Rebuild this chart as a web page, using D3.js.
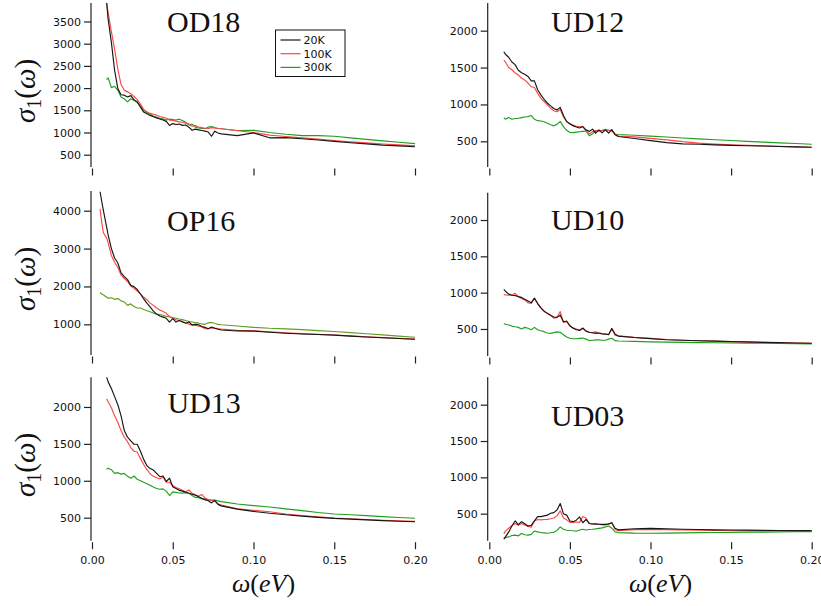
<!DOCTYPE html>
<html>
<head>
<meta charset="utf-8">
<script src="https://cdn.jsdelivr.net/npm/d3@7"></script>
<style>
  body { margin: 0; background: #fff; }
  svg { display: block; }
</style>
</head>
<body>
<svg id="chart" width="821" height="606"></svg>
<script>
// Photon energy grid (eV) shared by every sample
const omega = [0.005, 0.006, 0.007, 0.008, 0.009,
  0.010, 0.012, 0.014, 0.016, 0.018, 0.020, 0.022, 0.024, 0.026, 0.028,
  0.030, 0.032, 0.034, 0.036, 0.038, 0.040, 0.042, 0.044, 0.046, 0.048,
  0.050, 0.052, 0.054, 0.056, 0.058, 0.060, 0.062, 0.064, 0.066, 0.068,
  0.070, 0.072, 0.074, 0.076, 0.078, 0.080,
  0.09, 0.10, 0.11, 0.12, 0.13, 0.14, 0.15, 0.16, 0.17, 0.18, 0.19, 0.20];

const temperatures = ["20K", "100K", "300K"];

// sigma_1(omega) per sample and temperature
const od18_20K = [null, null, null, null, 3950,
  3550, 3030, 2400, 1990, 1850, 1840, 1800, 1830, 1740, 1690,
  1570, 1460, 1420, 1385, 1355, 1330, 1305, 1280, 1250, 1160,
  1200, 1180, 1190, 1160, 1170, 1120, 1050, 1075, 1060, 1045,
  1030, 1010, 915, 1030, 990, 970,
  930, 990, 880, 885, 860, 830, 800, 770, 745, 715, 700, 680];
const od18_100K = [null, null, null, null, 3920,
  3700, 3270, 2880, 2420, 2080, 1950, 1915, 1875, 1810, 1740,
  1640, 1520, 1465, 1430, 1410, 1390, 1360, 1340, 1320, 1280,
  1270, 1255, 1240, 1230, 1210, 1190, 1140, 1160, 1120, 1110,
  1095, 1090, 1110, 1100, 1090, 1085,
  1040, 1000, 940, 910, 880, 850, 820, 790, 765, 740, 720, 700];
const od18_300K = [null, null, null, null, 2190,
  2230, 2010, 2040, 1950, 1800, 1760, 1690, 1760, 1720, 1680,
  1610, 1500, 1450, 1410, 1370, 1345, 1320, 1300, 1280, 1300,
  1290, 1280, 1300, 1270, 1230, 1170, 1190, 1120, 1100, 1090,
  1090, 1120, 1135, 1110, 1090, 1085,
  1045, 1050, 1000, 960, 930, 930, 915, 880, 845, 810, 780, 750];

const ud12_20K = [null, null, null, null, 1715,
  1680, 1640, 1575, 1540, 1464, 1430, 1410, 1380, 1320, 1320,
  1200, 1130, 1070, 1020, 980, 945, 925, 960, 850, 770,
  735, 710, 695, 680, 700, 655, 635, 665, 610, 655,
  615, 655, 610, 660, 590, 565,
  538, 510, 482, 466, 460, 452, 446, 440, 436, 430, 425, 420];
const ud12_100K = [null, null, null, null, 1600,
  1575, 1500, 1470, 1430, 1400, 1355, 1330, 1290, 1240, 1230,
  1150, 1085, 1040, 995, 950, 915, 900, 930, 830, 766,
  743, 720, 705, 698, 700, 640, 600, 630, 650, 640,
  650, 662, 645, 653, 600, 572,
  560, 540, 520, 495, 475, 462, 452, 445, 438, 432, 425, 420];
const ud12_300K = [null, null, null, null, 820,
  800, 822, 800, 810, 812, 822, 830, 835, 850, 800,
  780, 775, 766, 745, 725, 710, 730, 770, 700, 650,
  620, 618, 625, 630, 635, 640, 575, 600, 640, 645,
  645, 648, 650, 640, 600, 592,
  582, 570, 558, 545, 533, 522, 511, 500, 490, 480, 470, 460];

const op16_20K = [4500, 4250, 4020, 3800, 3580,
  3360, 3000, 2750, 2620, 2360, 2260, 2180, 2030, 1995, 1920,
  1800, 1670, 1560, 1460, 1350, 1270, 1220, 1190, 1160, 1060,
  1150, 1060, 1100, 1060, 1030, 1060, 985, 1000, 990, 940,
  920, 880, 930, 895, 870, 850,
  825, 822, 790, 765, 745, 730, 715, 690, 665, 645, 625, 605];
const op16_100K = [4050, 3700, 3420, 3350, 3290,
  3150, 2820, 2640, 2500, 2300, 2210, 2130, 2010, 1950, 1880,
  1800, 1720, 1650, 1560, 1500, 1430, 1380, 1340, 1290, 1200,
  1160, 1120, 1100, 1080, 1040, 1000, 980, 975, 950, 935,
  880, 890, 905, 900, 885, 875,
  840, 830, 800, 775, 755, 735, 718, 695, 670, 650, 630, 610];
const op16_300K = [1840, 1800, 1780, 1750, 1720,
  1690, 1700, 1660, 1680, 1620, 1590, 1500, 1540, 1470, 1430,
  1430, 1390, 1360, 1330, 1295, 1270, 1255, 1240, 1210, 1200,
  1180, 1160, 1140, 1125, 1100, 1075, 1060, 1045, 1030, 1010,
  1000, 1040, 1050, 1020, 1000, 990,
  955, 920, 895, 880, 860, 835, 810, 780, 750, 720, 690, 660];

const ud10_20K = [null, null, null, null, 1045,
  1020, 980, 965, 960, 945, 935, 910, 885, 860, 925,
  850, 790, 745, 715, 690, 665, 660, 690, 600, 610,
  545, 510, 490, 480, 510, 470, 455, 448, 440, 445,
  432, 430, 420, 505, 430, 402,
  382, 368, 352, 345, 338, 333, 328, 322, 316, 312, 307, 303];
const ud10_100K = [null, null, null, null, 975,
  970, 965, 968, 990, 945, 920, 900, 860, 855, 920,
  850, 790, 745, 715, 690, 650, 660, 740, 590, 600,
  540, 515, 500, 485, 515, 470, 455, 450, 460, 445,
  435, 430, 425, 505, 415, 405,
  385, 370, 355, 345, 338, 332, 326, 320, 315, 310, 306, 302];
const ud10_300K = [null, null, null, null, 575,
  565, 555, 540, 530, 522, 500, 522, 510, 490, 522,
  490, 475, 463, 445, 440, 450, 460, 455, 420, 390,
  372, 365, 365, 370, 375, 360, 340, 345, 350, 350,
  345, 345, 360, 372, 340, 335,
  330, 323, 318, 315, 313, 311, 309, 306, 303, 300, 297, 294];

const ud13_20K = [null, null, null, null, 2410,
  2340, 2250, 2140, 2030, 1880, 1680, 1590, 1540, 1495, 1495,
  1400, 1290, 1205, 1165, 1145, 1100, 1055, 1065, 990, 1035,
  920, 895, 870, 860, 845, 830, 818, 805, 785, 762,
  745, 730, 700, 735, 680, 660,
  615, 585, 560, 540, 520, 505, 490, 480, 470, 460, 452, 445];
const ud13_100K = [null, null, null, null, 2110,
  2070, 1990, 1880, 1790, 1680, 1590, 1530, 1450, 1400, 1390,
  1300, 1220, 1150, 1095, 1060, 1040, 1025, 1050, 980, 980,
  935, 910, 890, 870, 850, 875, 830, 810, 790, 815,
  765, 745, 735, 725, 690, 670,
  620, 600, 580, 550, 530, 510, 495, 485, 475, 465, 457, 450];
const ud13_300K = [null, null, null, null, 1155,
  1170, 1150, 1100, 1110, 1090, 1100, 1060, 1035, 1065, 1020,
  1000, 980, 960, 940, 915, 895, 885, 890, 860, 800,
  850, 843, 835, 832, 840, 830, 800, 775, 770, 755,
  745, 740, 740, 740, 728, 718,
  685, 663, 645, 620, 595, 570, 550, 540, 528, 515, 503, 492];

const ud03_20K = [null, null, null, null, 150,
  180, 245, 330, 400, 350, 390, 360, 330, 340, 400,
  460, 460, 470, 480, 505, 515, 550, 640, 500, 480,
  400, 390, 410, 455, 375, 420, 365, 358, 356, 354,
  353, 352, 360, 376, 300, 278,
  292, 298, 292, 286, 282, 278, 275, 273, 271, 269, 267, 266];
const ud03_100K = [null, null, null, null, 225,
  260, 300, 335, 365, 340, 365, 345, 325, 315, 400,
  420, 415, 420, 422, 430, 440, 470, 540, 440, 415,
  380, 378, 385, 380, 460, 440, 365, 360, 365, 355,
  345, 345, 355, 375, 285, 266,
  280, 284, 280, 276, 272, 270, 268, 265, 263, 261, 259, 257];
const ud03_300K = [null, null, null, null, 160,
  170, 180, 200, 205, 195, 228, 210, 205, 215, 262,
  250, 240, 235, 230, 238, 245, 270, 318, 285, 272,
  268, 265, 258, 275, 285, 275, 282, 285, 290, 298,
  305, 318, 330, 300, 250, 240,
  232, 230, 233, 236, 239, 241, 243, 245, 247, 249, 251, 252];

// Axis tick values
const xTickValues = [0, 0.05, 0.10, 0.15, 0.20];
const yTicksOD18 = [500, 1000, 1500, 2000, 2500, 3000, 3500];
const yTicksOP16 = [1000, 2000, 3000, 4000];
const yTicksUD = [500, 1000, 1500, 2000];

// Panel layout
const colX = [
  { axisX: 91, x0: 92, x1: 415, labelRight: 80, sigmaX: 35 },
  { axisX: 487.7, x0: 489.3, x1: 811.7, labelRight: 477 }
];
const panels = [
  { name: "OD18", col: 0, top: 3, bottom: 167, domain: [223, 3916], ticks: yTicksOD18,
    series: [od18_20K, od18_100K, od18_300K], titleX: 167, titleY: 32, legend: true },
  { name: "UD12", col: 1, top: 3, bottom: 167, domain: [152, 2375], ticks: yTicksUD,
    series: [ud12_20K, ud12_100K, ud12_300K], titleX: 551, titleY: 32 },
  { name: "OP16", col: 0, top: 191, bottom: 355, domain: [190, 4520], ticks: yTicksOP16,
    series: [op16_20K, op16_100K, op16_300K], titleX: 167, titleY: 230.5, green: "#5e9f22" },
  { name: "UD10", col: 1, top: 192.7, bottom: 356, domain: [128, 2376], ticks: yTicksUD,
    series: [ud10_20K, ud10_100K, ud10_300K], titleX: 551, titleY: 230 },
  { name: "UD13", col: 0, top: 377.3, bottom: 540.7, domain: [188, 2402], ticks: yTicksUD,
    series: [ud13_20K, ud13_100K, ud13_300K], titleX: 167.5, titleY: 412.5, xLabels: true },
  { name: "UD03", col: 1, top: 377.3, bottom: 540.7, domain: [128, 2377], ticks: yTicksUD,
    series: [ud03_20K, ud03_100K, ud03_300K], titleX: 551, titleY: 426, xLabels: true }
];

const colors = ["#161616", "#ff4545", "#1f9f1f"];
const tickFont = "'DejaVu Sans', Verdana, sans-serif";
const serif = "'Liberation Serif', 'Times New Roman', serif";

const svg = d3.select("#chart");
const defs = svg.append("defs");

panels.forEach((p, i) => {
  const c = colX[p.col];
  const x = d3.scaleLinear().domain([0, 0.2]).range([c.x0, c.x1]);
  const y = d3.scaleLinear().domain(p.domain).range([p.bottom, p.top]);
  const g = svg.append("g");

  // y axis: line plus outward ticks
  const yAxis = d3.axisLeft(y).tickValues(p.ticks).tickSize(7).tickPadding(3).tickSizeOuter(0)
    .tickFormat(d3.format("d"));
  const ya = g.append("g").attr("transform", `translate(${c.axisX},0)`).call(yAxis);
  ya.select(".domain").attr("d", `M0,${p.top}V${p.bottom}`).attr("stroke", "#222").attr("stroke-width", 1.2);
  ya.selectAll(".tick line").attr("stroke", "#222").attr("stroke-width", 1.2);
  ya.selectAll(".tick text").style("font-family", tickFont).style("font-size", "11px").attr("fill", "#111");

  // x axis: ticks only, labels on bottom row
  const xAxis = d3.axisBottom(x).tickValues(xTickValues).tickSize(7).tickPadding(7).tickSizeOuter(0)
    .tickFormat(p.xLabels ? d3.format(".2f") : () => "");
  const xa = g.append("g").attr("transform", `translate(0,${p.bottom + 1.5})`).call(xAxis);
  xa.select(".domain").remove();
  xa.selectAll(".tick line").attr("stroke", "#222").attr("stroke-width", 1.2);
  xa.selectAll(".tick text").style("font-family", tickFont).style("font-size", "11px").attr("fill", "#111");

  // clip region for the curves
  const clipId = "clip" + i;
  defs.append("clipPath").attr("id", clipId).append("rect")
    .attr("x", c.axisX + 1).attr("y", p.top).attr("width", c.x1 - c.axisX).attr("height", p.bottom - p.top);

  const line = d3.line()
    .defined(d => d[1] != null)
    .x(d => x(d[0]))
    .y(d => y(d[1]));

  const lg = g.append("g").attr("clip-path", `url(#${clipId})`);
  // draw 300K first so low-T curves sit on top
  [2, 1, 0].forEach(k => {
    const pts = omega.map((w, j) => [w, p.series[k][j]]);
    lg.append("path").datum(pts)
      .attr("fill", "none")
      .attr("stroke", k === 2 && p.green ? p.green : colors[k])
      .attr("stroke-width", 1.15)
      .attr("stroke-linejoin", "round")
      .attr("d", line);
  });

  // sample name
  g.append("text").attr("x", p.titleX).attr("y", p.titleY)
    .style("font-family", serif).style("font-size", "30px").attr("fill", "#111")
    .text(p.name);

  // y label on the left column
  if (p.col === 0) {
    const cy = (p.top + p.bottom) / 2 + 6;
    const t = g.append("text").attr("transform", `translate(${c.sigmaX},${cy}) rotate(-90)`)
      .attr("text-anchor", "middle")
      .style("font-family", serif).style("font-size", "29px").attr("fill", "#111");
    t.append("tspan").style("font-style", "italic").text("σ");
    t.append("tspan").attr("dy", 6).style("font-size", "20px").text("1");
    t.append("tspan").attr("dy", -6).text("(");
    t.append("tspan").style("font-style", "italic").text("ω");
    t.append("tspan").text(")");
  }

  // x label on the bottom row
  if (p.xLabels) {
    const t = g.append("text").attr("x", (c.x0 + c.x1) / 2 + 10).attr("y", 592)
      .attr("text-anchor", "middle")
      .style("font-family", serif).style("font-size", "26px").attr("fill", "#111");
    t.append("tspan").style("font-style", "italic").text("ω");
    t.append("tspan").text("(");
    t.append("tspan").style("font-style", "italic").text("eV");
    t.append("tspan").text(")");
  }

  // temperature legend
  if (p.legend) {
    const lgd = g.append("g").attr("transform", "translate(275.5,30)");
    lgd.append("rect").attr("width", 69.5).attr("height", 46.5)
      .attr("fill", "#fff").attr("stroke", "#111").attr("stroke-width", 1);
    temperatures.forEach((tLabel, k) => {
      const yy = 10 + k * 13.7;
      lgd.append("line").attr("x1", 5).attr("x2", 25).attr("y1", yy).attr("y2", yy)
        .attr("stroke", colors[k]).attr("stroke-width", 1.2);
      lgd.append("text").attr("x", 28).attr("y", yy + 4)
        .style("font-family", tickFont).style("font-size", "11px").attr("fill", "#111")
        .text(tLabel);
    });
  }
});
</script>
</body>
</html>
